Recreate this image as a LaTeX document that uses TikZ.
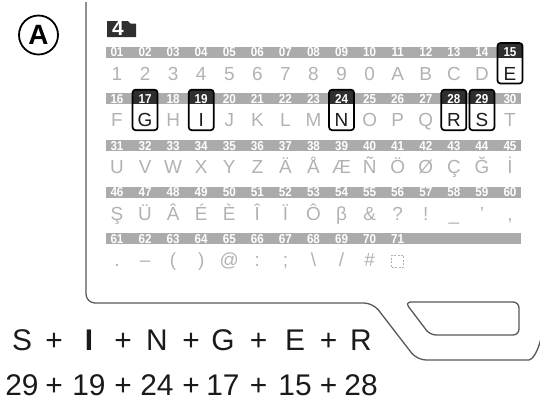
\documentclass[tikz,border=0pt]{standalone}
\usepackage{fontspec}
\setmainfont{Liberation Sans}
\newfontfamily\heavyfont{Liberation Sans Bold}
\newfontfamily\numfont{Liberation Sans Bold}[FakeStretch=0.9]
\usepackage{xcolor}
\usepackage{tikz}
\usetikzlibrary{positioning}

\definecolor{barGray}{HTML}{ABABAB}
\definecolor{charGray}{HTML}{B2B2B2}
\definecolor{boxDark}{HTML}{2F2F2F}
\definecolor{outlineGray}{HTML}{585858}
\definecolor{inkBlack}{HTML}{1A1A1A}

\begin{document}
\begin{tikzpicture}[
    x=1bp, y=-1bp,
    numbar/.style={fill=barGray, draw=none},
    numlabel/.style={text=white, font=\numfont\fontsize{13}{14}\selectfont, inner sep=0pt, anchor=base},
    charlabel/.style={text=charGray, font=\fontsize{19}{20}\selectfont, inner sep=0pt, anchor=base},
    pickbox/.style={draw=black, line width=1.7bp, rounded corners=3bp},
    sumtext/.style={text=inkBlack, font=\fontsize{30}{32}\selectfont, inner sep=0pt, anchor=base},
    outline/.style={draw=outlineGray, line width=1.3bp},
]

\useasboundingbox (0,0) rectangle (540,404);

% Badge and device outline
\node[circle, draw=black, line width=1.8bp, minimum size=39bp, inner sep=0pt,
      font=\heavyfont\fontsize{28}{30}\selectfont] (badge) at (38.5,35) {A};
\draw[outline, rounded corners=9bp] (86,2) -- (86,303) -- (373,303) -- (417,360) -- (520,360)
    .. controls (532,360) and (538,352) .. (541,338);
\draw[outline, rounded corners=6bp] (405,302) -- (519,302) -- (519,335) -- (430,335) -- cycle;

% Folder tab
\fill[boxDark] (107,37) -- (107,21) -- (128,21) -- (130.5,23.5) -- (136,23.5) -- (136,37) -- cycle;
\node[text=white, font=\heavyfont\fontsize{21}{22}\selectfont, inner sep=0pt, anchor=base] (tabnum) at (118,35.5) {4};

% Number bars
\foreach \row in {0,...,4}
    \fill[numbar] (106,{52+46.7*\row-5.5}) rectangle (521,{52+46.7*\row+5.5});

% Character table
\foreach \c [count=\n] in {1,2,3,4,5,6,7,8,9,0,A,B,C,D,E,
    F,G,H,I,J,K,L,M,N,O,P,Q,R,S,T,
    U,V,W,X,Y,Z,Ä,Å,Æ,Ñ,Ö,Ø,Ç,Ğ,İ,
    Ş,Ü,Â,É,È,Î,Ï,Ô,β,\&,?,!,\_,’,{,},
    .,–,{(},{)},@,:,;,\textbackslash,/,\#} {
    \pgfmathtruncatemacro{\row}{div(\n-1,15)}
    \pgfmathtruncatemacro{\col}{mod(\n-1,15)}
    \pgfmathsetmacro{\cx}{117+28.07*\col}
    \pgfmathsetmacro{\cy}{52+46.7*\row}
    \node[numlabel] (n\n) at (\cx,\cy+4.6) {\ifnum\n<10 0\fi\n};
    \node[charlabel] (c\n) at (\cx,\cy+28) {\c};
}
\node[numlabel] (n71) at (397.7,243.4) {71};
\node[draw=charGray, dashed, dash pattern=on 2bp off 1.5bp, line width=0.9bp,
      minimum width=12bp, minimum height=12bp, inner sep=0pt] (c71) at (397.7,261) {};

% Picked characters
\foreach \n/\c in {15/E,17/G,19/I,24/N,28/R,29/S} {
    \pgfmathtruncatemacro{\row}{div(\n-1,15)}
    \pgfmathtruncatemacro{\col}{mod(\n-1,15)}
    \pgfmathsetmacro{\cx}{117+28.07*\col}
    \pgfmathsetmacro{\cy}{52+46.7*\row}
    \fill[white, rounded corners=3bp] (\cx-12.5,\cy-9) rectangle (\cx+12.5,\cy+31.5);
    \begin{scope}
        \clip[rounded corners=3bp] (\cx-12.5,\cy-9) rectangle (\cx+12.5,\cy+31.5);
        \fill[boxDark] (\cx-12.5,\cy-9) rectangle (\cx+12.5,\cy+5.5);
    \end{scope}
    \draw[pickbox] (\cx-12.5,\cy-9) rectangle (\cx+12.5,\cy+31.5);
    \node[numlabel] (pn\n) at (\cx,\cy+4.6) {\n};
    \node[charlabel, text=inkBlack] (pc\n) at (\cx,\cy+28) {\c};
}

% Sums
\foreach \x/\a/\b [count=\k] in {22/S/29, 54/+/+, 89/{\heavyfont I}/19, 123/+/+, 157/N/24, 191/+/+,
    223/G/17, 258.5/+/+, 295/E/15, 328.5/+/+, 361/R/28} {
    \node[sumtext] (top\k) at (\x,350) {\a};
    \node[sumtext] (bot\k) at (\x,395) {\b};
}

\end{tikzpicture}
\end{document}
